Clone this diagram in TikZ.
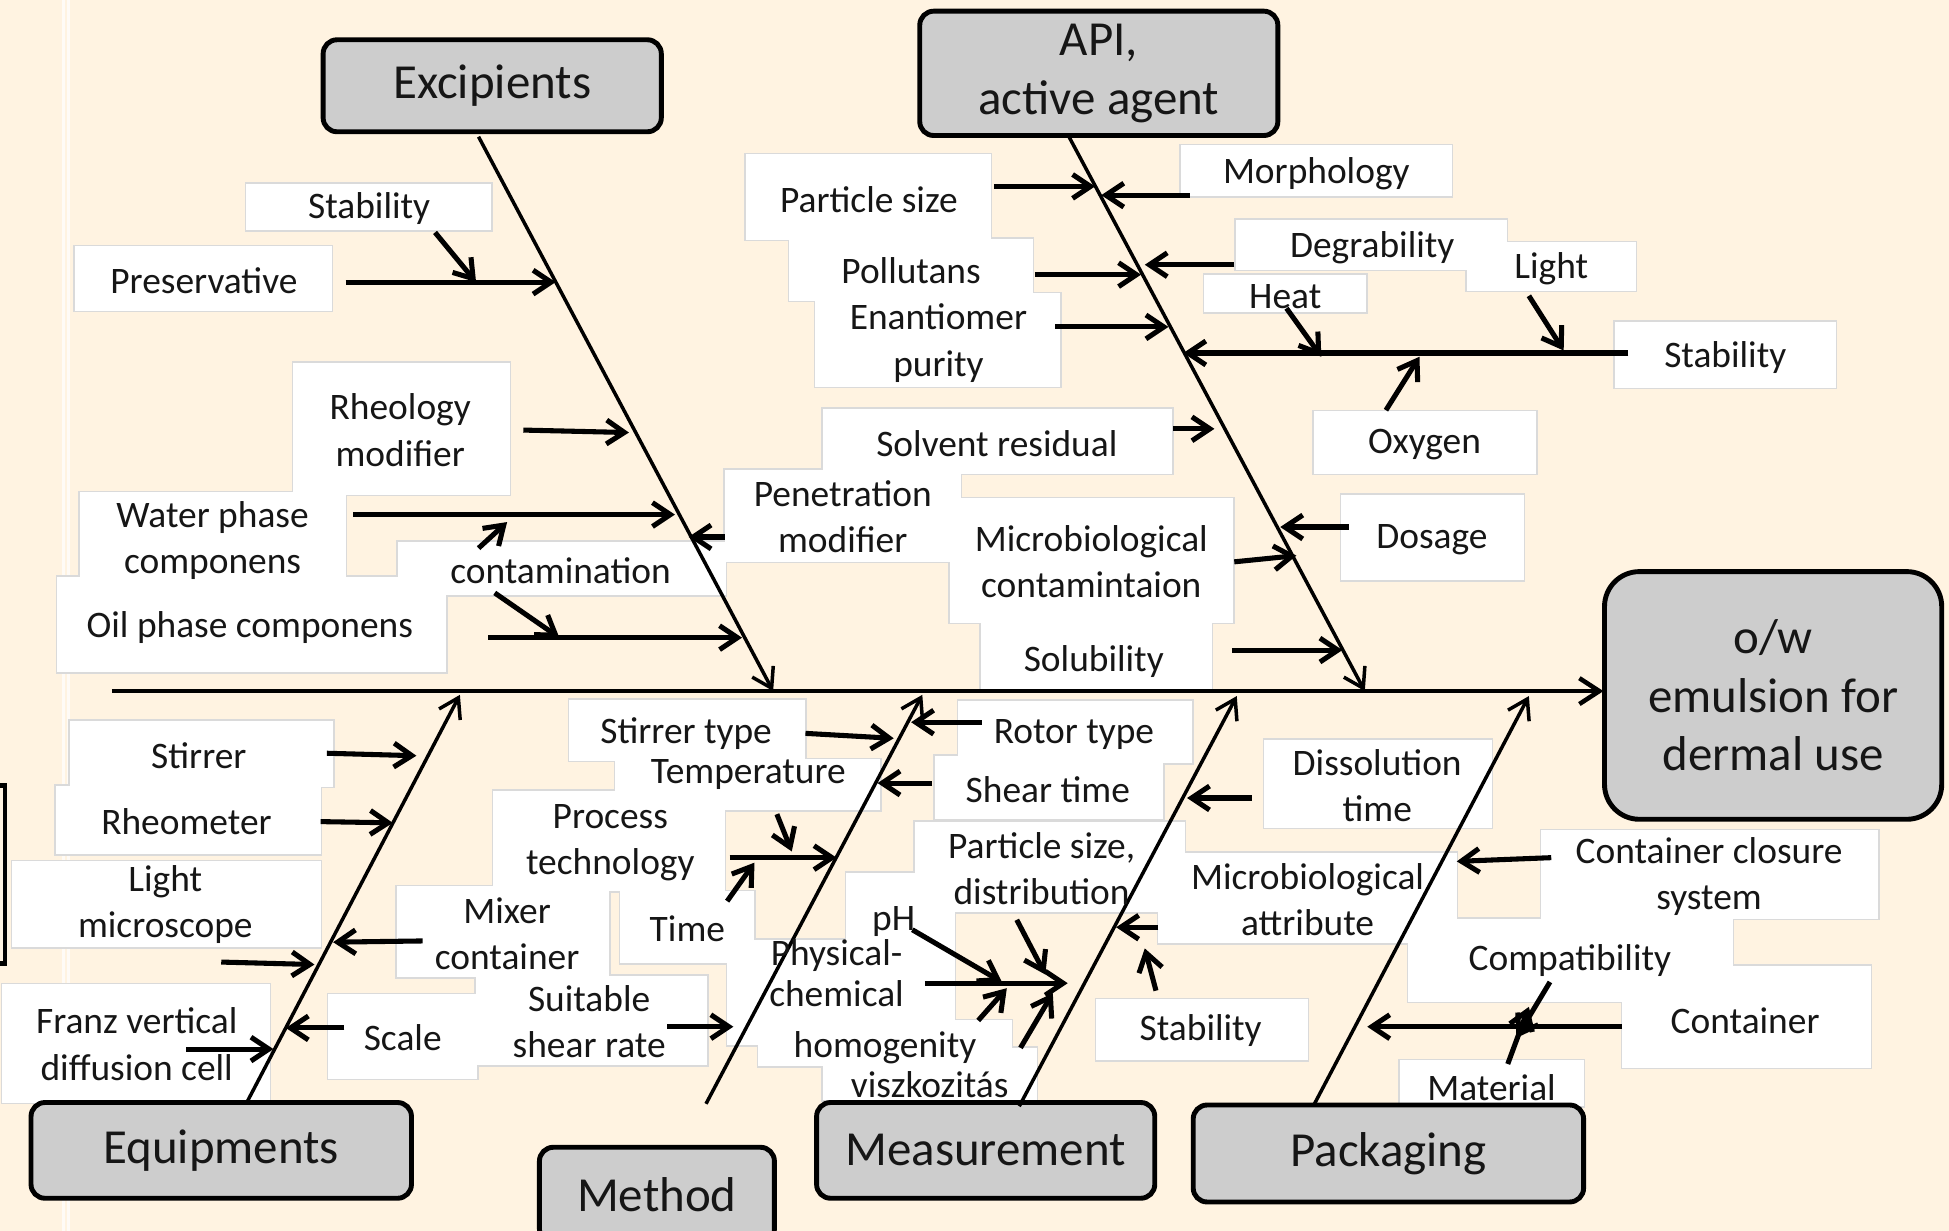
\documentclass[tikz,border=0pt]{standalone}
\usepackage{fontspec}
\setmainfont{Carlito}
\usetikzlibrary{arrows.meta}
\definecolor{bg}{RGB}{255,243,225}
\definecolor{catfill}{RGB}{205,205,205}
\definecolor{boxedge}{RGB}{218,218,218}
\definecolor{ink}{RGB}{22,22,22}
\begin{document}
\begin{tikzpicture}[x=0.0125cm,y=-0.0125cm,
  lab/.style={inner sep=0pt,align=center,text=ink,font=\fontsize{10.7}{13.2}\selectfont},
  cat/.style={draw=black,line width=1.4pt,fill=catfill,rounded corners=0.14cm,inner sep=0pt,align=center,text=ink,font=\fontsize{14}{16.8}\selectfont},
  bone/.style={line width=1pt,draw=black,-{Straight Barb[length=1.9mm,width=2.4mm]}},
  arr/.style={line width=1.45pt,draw=black,-{Straight Barb[length=1.8mm,width=2.4mm]}},
  spine/.style={line width=1.3pt,draw=black,-{Straight Barb[length=2mm,width=2.6mm]}},
  lbedge/.style={draw=boxedge,line width=0.9pt},
  lbfill/.style={fill=white}
]
\fill[bg] (0,0) rectangle (1568,990);
\useasboundingbox (0,0) rectangle (1568,990);

% faint guide lines and left bracket
\draw[white!70!bg,line width=0.7pt] (51,0) -- (51,990);
\draw[white!70!bg,line width=0.7pt] (55,0) -- (55,990);
\draw[black,line width=1.4pt] (-10,632) -- (4,632) -- (4,775) -- (-10,775);

% label boxes (union look)
\def\boxlist{198/148/395/185, 60/198/267/250, 236/292/410/398, 64/396/278/464,
 320/436/584/479, 46/464/359/541, 583/378/773/452,
 600/124/797/193, 635/192/831/242, 656/236/853/311, 950/117/1168/158,
 994/177/1212/217, 1180/195/1316/234, 969/221/1099/251, 1299/259/1477/312,
 1057/331/1236/381, 662/329/943/381, 764/401/992/501, 1079/398/1226/467,
 789/501/975/556,
 56/580/268/633, 45/632/258/687, 10/693/258/762, 319/713/490/786,
 2/792/217/887, 264/800/384/868, 383/785/569/857, 397/636/583/717,
 499/717/607/775, 458/563/648/612, 495/611/708/652,
 681/702/768/756, 585/756/768/841, 610/821/814/858, 662/843/834/885,
 736/661/953/734, 771/564/959/614, 752/608/936/659, 932/686/1172/759,
 1017/595/1200/666, 882/804/1052/853,
 1240/668/1511/739, 1133/739/1394/806, 1305/777/1505/859, 1126/853/1274/890}
\foreach \xa/\ya/\xb/\yb in \boxlist {\draw[lbedge] (\xa,\ya) rectangle (\xb,\yb);}
\foreach \xa/\ya/\xb/\yb in \boxlist {\fill[lbfill] (\xa,\ya) rectangle (\xb,\yb);}

% category boxes
\node[cat,minimum width=3.4cm,minimum height=0.925cm] (exc) at (396,69) {\raisebox{-2pt}{Excipients}};
\node[cat,minimum width=3.6cm,minimum height=1.25cm] (api) at (884,59) {API,\\active agent};
\node[cat,minimum width=3.39cm,minimum height=2.49cm,rounded corners=0.35cm] (ow) at (1426.5,559.5) {o/w\\emulsion for\\dermal use};
\node[cat,minimum width=3.825cm,minimum height=0.9625cm] (equ) at (178,925.5) {\raisebox{-2pt}{Equipments}};
\node[cat,minimum width=2.3625cm,minimum height=0.9625cm] (met) at (528.5,961.5) {\raisebox{-2pt}{Method}};
\node[cat,minimum width=3.4cm,minimum height=0.9625cm] (mea) at (793,925.5) {\raisebox{-2pt}{Measurement}};
\node[cat,minimum width=3.925cm,minimum height=0.975cm] (pac) at (1117,928) {\raisebox{-2pt}{Packaging}};

% spine and bones
\coordinate (spS) at (90,556);
\coordinate (spE) at (1290,556);
\draw[spine] (spS) -- (spE);
\coordinate (bExcS) at (385,110); \coordinate (bExcE) at (622,556);
\coordinate (bApiS) at (860,110); \coordinate (bApiE) at (1098,556);
\coordinate (bEquS) at (198,888); \coordinate (bEquE) at (370,559);
\coordinate (bMetS) at (568,888); \coordinate (bMetE) at (742,559);
\coordinate (bMeaS) at (820,890); \coordinate (bMeaE) at (995,560);
\coordinate (bPacS) at (1057,889); \coordinate (bPacE) at (1230,560);
\draw[bone] (bExcS) -- (bExcE);
\draw[bone] (bApiS) -- (bApiE);
\draw[bone] (bEquS) -- (bEquE);
\draw[bone] (bMetS) -- (bMetE);
\draw[bone] (bMeaS) -- (bMeaE);
\draw[bone] (bPacS) -- (bPacE);

% label arrows
\foreach \n/\xa/\ya/\xb/\yb in {
 1/350/187/383/227, 2/278/227/447/227, 3/421/346/506/348, 4/284/414/543/414,
 5/385/441/408/420, 6/398/477/450/513, 7/393/513/597/513, 8/583/432/554/432,
 9/800/150/881/150, 10/957/157/886/157, 11/833/221/918/221, 12/993/213/921/213,
 13/849/263/940/263, 14/1230/238/1258/282, 15/1035/248/1063/287, 16/1310/284/952/284,
 17/1115/330/1142/287, 18/944/345/977/345, 19/993/452/1043/447, 20/1085/424/1030/424,
 21/991/523/1080/523,
 22/263/606/335/608, 23/258/661/316/662, 24/178/774/253/776, 25/340/757/268/758,
 26/150/844/220/844, 27/277/827/230/827,
 28/648/590/719/594, 29/625/655/637/685, 30/587/690/673/690, 31/585/725/607/694,
 32/537/826/590/826, 33/790/581/733/581, 34/750/630/706/630,
 35/818/740/841/784, 36/734/748/806/790, 37/744/791/859/791, 38/787/821/810/795,
 39/821/843/847/799, 40/932/746/898/746, 41/930/797/921/763, 42/1007/642/955/642,
 43/1248/690/1172/693, 44/1247/790/1220/835, 45/1305/826/1100/826, 46/1213/856/1230/810}
{\coordinate (s\n) at (\xa,\ya); \coordinate (e\n) at (\xb,\yb); \draw[arr] (s\n) -- (e\n);}

% labels: Excipients
\node[lab] (stabE) at (297,168) {Stability};
\node[lab] (pres) at (164,226) {Preservative};
\node[lab] (rheo) at (322,346) {Rheology\\modifier};
\node[lab] (water) at (171,435) {Water phase\\componens};
\node[lab] (contam) at (451,459) {contamination};
\node[lab] (oil) at (201,505) {Oil phase componens};
\node[lab] (pen) at (678,416) {Penetration\\modifier};
% API
\node[lab] (psize) at (699,161) {Particle size};
\node[lab] (morph) at (1059,140) {Morphology};
\node[lab] (poll) at (733,218) {Pollutans};
\node[lab] (degr) at (1104,199) {Degrability};
\node[lab] (enan) at (755,276) {Enantiomer\\purity};
\node[lab] (light) at (1248,216) {Light};
\node[lab] (heat) at (1034,239) {Heat};
\node[lab] (stabA) at (1388,288) {Stability};
\node[lab] (oxy) at (1146,358) {Oxygen};
\node[lab] (solv) at (802,357) {Solvent residual};
\node[lab] (mcont) at (878,452) {Microbiological\\contamintaion};
\node[lab] (dos) at (1152,434) {Dosage};
\node[lab] (solu) at (880,532) {Solubility};
% Equipments
\node[lab] (stir) at (160,608) {Stirrer};
\node[lab] (rheom) at (150,661) {Rheometer};
\node[lab] (lmic) at (133,728) {Light\\microscope};
\node[lab] (franz) at (110,840) {Franz vertical\\diffusion cell};
\node[lab] (mixer) at (408,751) {Mixer\\container};
\node[lab] (scale) at (324,835) {Scale};
% Method
\node[lab] (stype) at (552,590) {Stirrer type};
\node[lab] (temp) at (602,623) {Temperature};
\node[lab] (proc) at (491,678) {Process\\technology};
\node[lab] (time) at (553,747) {Time};
\node[lab] (suit) at (474,822) {Suitable\\shear rate};
\node[lab] (rotor) at (864,591) {Rotor type};
\node[lab] (sheart) at (843,635) {Shear time};
% Measurement
\node[lab] (psd) at (838,699) {Particle size,\\distribution};
\node[lab] (ph) at (719,741) {pH};
\node[lab,font=\fontsize{10.7}{11.8}\selectfont] (phys) at (673,783) {Physical-\\chemical};
\node[lab] (homog) at (712,843) {homogenity};
\node[lab] (visz) at (748,873) {viszkozitás};
\node[lab] (mattr) at (1052,724) {Microbiological\\attribute};
\node[lab] (stabM) at (966,829) {Stability};
\node[lab] (diss) at (1108,632) {Dissolution\\time};
% Packaging
\node[lab] (ccs) at (1375,705) {Container closure\\system};
\node[lab] (compat) at (1263,773) {Compatibility};
\node[lab] (cont) at (1404,821) {Container};
\node[lab] (mat) at (1200,875) {Material};
\end{tikzpicture}
\end{document}
